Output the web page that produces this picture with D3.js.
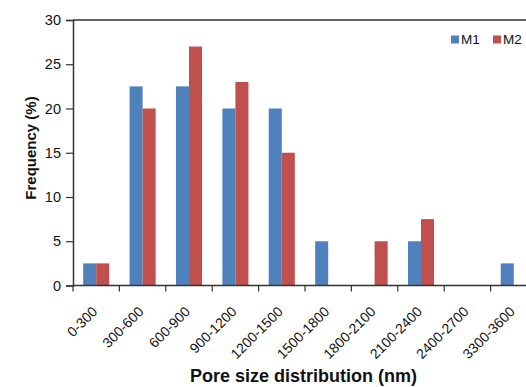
<!DOCTYPE html>
<html>
<head>
<meta charset="utf-8">
<script src="https://cdn.jsdelivr.net/npm/d3@7"></script>
<style>
  html, body { margin: 0; padding: 0; background: #fff; }
  svg { display: block; }
  text { font-family: "Liberation Sans", Arial, sans-serif; fill: #111; }
</style>
</head>
<body>
<svg id="chart" width="526" height="387"></svg>
<script>
// Pore size classes (nm)
const categories = ["0-300", "300-600", "600-900", "900-1200", "1200-1500",
                    "1500-1800", "1800-2100", "2100-2400", "2400-2700", "3300-3600"];
// Frequency (%) per class for each sample
const m1Values = [2.5, 22.5, 22.5, 20, 20, 5, 0, 5, 0, 2.5];
const m2Values = [2.5, 20, 27, 23, 15, 0, 5, 7.5, 0, 0];
const seriesNames = ["M1", "M2"];
const seriesColors = ["#4F81BD", "#C0504D"];
const yTicks = [0, 5, 10, 15, 20, 25, 30];

const svg = d3.select("#chart");
const plotLeft = 73, plotTop = 20, plotRight = 537, plotBottom = 285.5;

const x = d3.scaleBand().domain(categories).range([plotLeft, plotRight]).paddingInner(0).paddingOuter(0);
const inner = d3.scaleBand().domain(seriesNames).range([0, x.bandwidth()]).paddingInner(0).paddingOuter(0.78);
const y = d3.scaleLinear().domain([0, 30]).range([plotBottom, plotTop]);

const rows = categories.map((c, i) => ({ cat: c, vals: [m1Values[i], m2Values[i]] }));

// Bars
const groups = svg.append("g").selectAll("g").data(rows).join("g")
  .attr("transform", d => `translate(${x(d.cat)},0)`);
groups.selectAll("rect")
  .data(d => d.vals.map((v, j) => ({ name: seriesNames[j], v, color: seriesColors[j] })))
  .join("rect")
  .attr("x", d => inner(d.name))
  .attr("width", inner.bandwidth())
  .attr("y", d => y(d.v))
  .attr("height", d => y(0) - y(d.v))
  .attr("fill", d => d.color);

// Top frame line
svg.append("line")
  .attr("x1", plotLeft).attr("x2", 526)
  .attr("y1", y(30)).attr("y2", y(30))
  .attr("stroke", "#333").attr("stroke-width", 1.5);

// Y axis
const yAxis = svg.append("g").attr("transform", `translate(${plotLeft},0)`)
  .call(d3.axisLeft(y).tickValues(yTicks).tickSize(7).tickPadding(5));
yAxis.select(".domain").attr("stroke", "#333").attr("stroke-width", 1.5);
yAxis.selectAll(".tick line").attr("stroke", "#333").attr("stroke-width", 1.2);
yAxis.selectAll(".tick text").attr("font-size", 14.5).attr("font-family", "Liberation Sans, Arial, sans-serif").attr("fill", "#111");

// X axis: ticks at category boundaries
const xAxisG = svg.append("g").attr("transform", `translate(0,${plotBottom})`);
xAxisG.append("line").attr("x1", plotLeft).attr("x2", 526).attr("y1", 0).attr("y2", 0)
  .attr("stroke", "#333").attr("stroke-width", 1.5);
const boundaries = categories.map(c => x(c)).concat([x(categories[categories.length - 1]) + x.step()]);
xAxisG.selectAll("line.tk").data(boundaries.filter(b => b <= 526)).join("line")
  .attr("class", "tk")
  .attr("x1", d => d).attr("x2", d => d).attr("y1", 0).attr("y2", 6)
  .attr("stroke", "#333").attr("stroke-width", 1.2);
xAxisG.selectAll("text").data(categories).join("text")
  .attr("transform", d => `translate(${x(d) + x.bandwidth() / 2 + 2},${27}) rotate(-45)`)
  .attr("text-anchor", "end")
  .attr("font-size", 14)
  .text(d => d);

// Axis titles
svg.append("text")
  .attr("transform", `translate(35.5,148) rotate(-90)`)
  .attr("text-anchor", "middle")
  .attr("font-size", 15).attr("font-weight", "bold")
  .text("Frequency (%)");
svg.append("text")
  .attr("x", 303.5).attr("y", 382)
  .attr("text-anchor", "middle")
  .attr("font-size", 18).attr("font-weight", "bold")
  .text("Pore size distribution (nm)");

// Legend
const legend = svg.append("g");
const legendX = [451, 493];
seriesNames.forEach((n, i) => {
  legend.append("rect").attr("x", legendX[i]).attr("y", 35.5).attr("width", 8).attr("height", 8)
    .attr("fill", seriesColors[i]);
  legend.append("text").attr("x", legendX[i] + 10).attr("y", 44)
    .attr("font-size", 13.5).text(n);
});
</script>
</body>
</html>
